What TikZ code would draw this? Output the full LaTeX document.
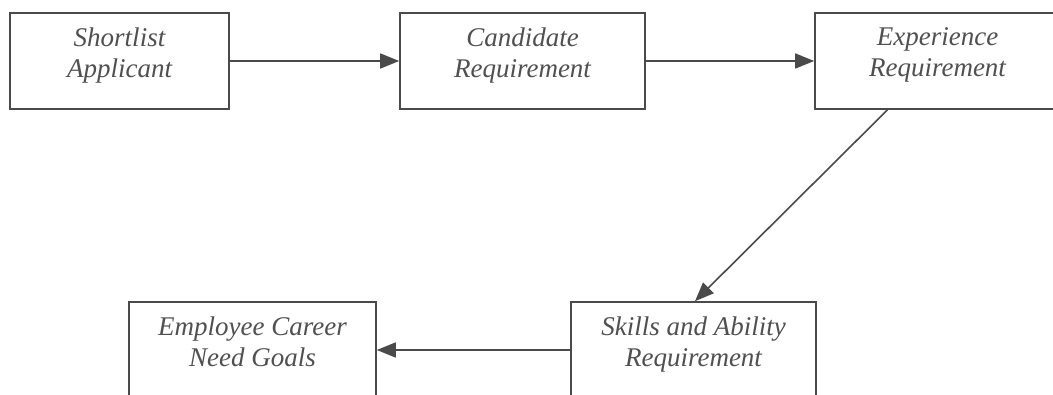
\documentclass[tikz,border=0pt]{standalone}
\usepackage{fontspec}
\setmainfont{Liberation Serif}
\usetikzlibrary{arrows.meta,calc}
\definecolor{ln}{HTML}{4A4A4A}
\definecolor{tx}{HTML}{505050}
\tikzset{
  flowbox/.style={draw=ln, line width=1.6pt, minimum height=96pt, inner sep=0pt, fill=white},
  flowtext/.style={anchor=north, inner sep=0pt, align=center, text=tx,
    font=\fontsize{27pt}{31pt}\selectfont\itshape},
  flowarrow/.style={draw=ln, line width=1.6pt, -{Triangle[length=19pt,width=15pt]}}
}
\begin{document}
\begin{tikzpicture}[x=1pt,y=-1pt]
\useasboundingbox (0,0) rectangle (1053,395);
\clip (0,0) rectangle (1053,395);
\node[flowbox, minimum width=219pt] (b1) at (119.5,61) {};
\node[flowbox, minimum width=245pt] (b2) at (522.5,61) {};
\node[flowbox, minimum width=245pt] (b3) at (937.5,61) {};
\node[flowbox, minimum width=245pt] (b4) at (693.5,350) {};
\node[flowbox, minimum width=247pt] (b5) at (252.5,350) {};
\node[flowtext] (t1) at ($(b1.north)+(0,15.5)$) {Shortlist\\Applicant};
\node[flowtext] (t2) at ($(b2.north)+(0,15.5)$) {Candidate\\Requirement};
\node[flowtext] (t3) at ($(b3.north)+(0,15.5)$) {Experience\\Requirement};
\node[flowtext] (t4) at ($(b4.north)+(0,15.5)$) {Skills and Ability\\Requirement};
\node[flowtext] (t5) at ($(b5.north)+(0,15.5)$) {Employee Career\\Need Goals};
\draw[flowarrow] (b1.east) -- (b2.west);
\draw[flowarrow] (b2.east) -- (b3.west);
\draw[flowarrow] ($(b3.south)+(-50,0)$) -- ($(b4.north)+(1.5,0)$);
\draw[flowarrow] (b4.west) -- (b5.east);
\end{tikzpicture}
\end{document}
